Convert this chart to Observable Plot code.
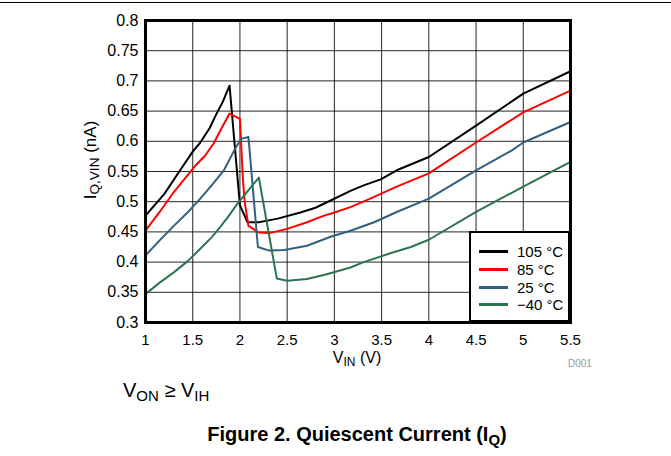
<!DOCTYPE html>
<html>
<head>
<meta charset="utf-8">
<script src="https://cdn.jsdelivr.net/npm/d3@7"></script>
<script src="https://cdn.jsdelivr.net/npm/@observablehq/plot@0.6"></script>
<style>
  html, body { margin: 0; padding: 0; background: white; }
  #page { position: relative; width: 671px; height: 456px; overflow: hidden; font-family: "Liberation Sans", Arial, sans-serif; color: black; }
  #topline { position: absolute; left: 0; top: 2px; width: 671px; height: 1px; background: black; }
  #chart { position: absolute; left: 0; top: 0; }
  .abs { position: absolute; white-space: nowrap; line-height: 1; }
  sub { font-size: 0.75em; vertical-align: -0.25em; line-height: 0; }
  .ylab sub { font-size: 0.8em; }
  #legend { position: absolute; left: 469px; top: 231px; width: 97px; height: 87px; border: 2px solid black; background: white; }
  .lrow { position: absolute; left: 8px; height: 18px; width: 90px; font-size: 15px; white-space: nowrap; line-height: 1; }
  .lrow .sw { position: absolute; left: 0; top: 8px; width: 29px; height: 0; border-top: 3px solid; }
  .lrow .lt { position: absolute; left: 38px; top: 2px; white-space: nowrap; }
</style>
</head>
<body>
<div id="page">
  <div id="topline"></div>
  <div id="chart"></div>
</div>
<script>
// ---- data ----
const seriesNames = ["105 °C", "85 °C", "25 °C", "−40 °C"];
const seriesColors = ["#000000", "#ff0000", "#31607f", "#2e7350"];

const vin105 = [1.0, 1.2, 1.37, 1.5, 1.58, 1.68, 1.75, 1.82, 1.89, 2.0, 2.08, 2.2, 2.4, 2.64, 2.8, 2.96, 3.17, 3.31, 3.49, 3.66, 4.0, 4.5, 5.0, 5.5];
const iq105  = [0.477, 0.513, 0.553, 0.583, 0.598, 0.622, 0.645, 0.666, 0.692, 0.494, 0.466, 0.466, 0.472, 0.482, 0.490, 0.502, 0.518, 0.527, 0.537, 0.552, 0.574, 0.626, 0.679, 0.716];

const vin85 = [1.0, 1.15, 1.3, 1.53, 1.63, 1.72, 1.8, 1.89, 2.0, 2.03, 2.05, 2.09, 2.2, 2.31, 2.5, 2.71, 2.89, 2.96, 3.17, 3.38, 3.49, 3.66, 4.0, 4.5, 5.0, 5.5];
const iq85  = [0.452, 0.483, 0.516, 0.560, 0.576, 0.596, 0.620, 0.646, 0.637, 0.540, 0.500, 0.460, 0.449, 0.448, 0.455, 0.466, 0.477, 0.480, 0.491, 0.505, 0.513, 0.525, 0.547, 0.598, 0.648, 0.684];

const vin25 = [1.0, 1.15, 1.3, 1.45, 1.58, 1.7, 1.83, 1.94, 2.01, 2.09, 2.19, 2.31, 2.47, 2.71, 2.96, 3.17, 3.42, 3.66, 4.0, 4.5, 4.88, 5.0, 5.5];
const iq25  = [0.411, 0.436, 0.460, 0.483, 0.505, 0.527, 0.552, 0.585, 0.604, 0.607, 0.425, 0.419, 0.420, 0.427, 0.442, 0.452, 0.466, 0.483, 0.505, 0.552, 0.585, 0.598, 0.632];

const vinM40 = [1.0, 1.15, 1.3, 1.45, 1.58, 1.7, 1.79, 1.88, 1.97, 2.08, 2.2, 2.39, 2.5, 2.71, 2.92, 3.17, 3.31, 3.6, 3.81, 4.0, 4.5, 5.0, 5.5];
const iqM40  = [0.347, 0.366, 0.383, 0.402, 0.422, 0.441, 0.458, 0.476, 0.496, 0.517, 0.540, 0.373, 0.369, 0.372, 0.380, 0.391, 0.400, 0.415, 0.425, 0.437, 0.483, 0.525, 0.566];

const xTicks = [1, 1.5, 2, 2.5, 3, 3.5, 4, 4.5, 5, 5.5];
const yTicks = [0.3, 0.35, 0.4, 0.45, 0.5, 0.55, 0.6, 0.65, 0.7, 0.75, 0.8];

// ---- build tidy table ----
const seriesX = [vin105, vin85, vin25, vinM40];
const seriesY = [iq105, iq85, iq25, iqM40];
const data = [];
seriesNames.forEach((name, k) => {
  seriesX[k].forEach((v, i) => data.push({s: name, v, i: seriesY[k][i]}));
});

const chart = Plot.plot({
  width: 671,
  height: 378,
  marginLeft: 145,
  marginRight: 101,
  marginTop: 20,
  marginBottom: 56,
  style: {fontFamily: "'Liberation Sans', Arial, sans-serif", fontSize: "15px", color: "black", background: "transparent", overflow: "visible"},
  x: {domain: [1, 5.5], label: null},
  y: {domain: [0.3, 0.8], label: null},
  color: {domain: seriesNames, range: seriesColors},
  marks: [
    Plot.gridX(xTicks, {stroke: "black", strokeOpacity: 0.85, strokeWidth: 1}),
    Plot.gridY(yTicks, {stroke: "black", strokeOpacity: 0.85, strokeWidth: 1}),
    Plot.line(data, {x: "v", y: "i", z: "s", stroke: "s", strokeWidth: 2}),
    Plot.frame({stroke: "black", strokeWidth: 3}),
    Plot.axisX(xTicks, {tickSize: 0, tickPadding: 12, tickFormat: d => String(d), fontSize: 15, label: null}),
    Plot.axisY(yTicks, {tickSize: 0, tickPadding: 7, tickFormat: d => String(+d.toFixed(2)), fontSize: 16, label: null})
  ]
});
document.getElementById("chart").appendChild(chart);

// ---- overlay texts ----
const page = document.getElementById("page");
function addText(html, css, cls) {
  const d = document.createElement("div");
  d.className = "abs" + (cls ? " " + cls : "");
  d.innerHTML = html;
  Object.assign(d.style, css);
  page.appendChild(d);
  return d;
}
// y label (rotated)
addText("I<sub>Q,VIN</sub> (nA)", {left: "90px", top: "160px", fontSize: "17px", transform: "translate(-50%,-50%) rotate(-90deg)"}, "ylab");
// x label
addText("V<sub>IN</sub> (V)", {left: "357px", top: "350px", fontSize: "16px", transform: "translateX(-50%)"});
// D001
addText("D001", {left: "568px", top: "359px", fontSize: "10px", color: "#999"});
// condition
addText("V<sub>ON</sub> ≥ V<sub>IH</sub>", {left: "123px", top: "380px", fontSize: "20px"});
// caption
addText("Figure 2. Quiescent Current (I<sub>Q</sub>)", {left: "357px", top: "424px", fontSize: "20px", fontWeight: "bold", transform: "translateX(-50%)"});

// legend
const leg = document.createElement("div");
leg.id = "legend";
seriesNames.forEach((name, k) => {
  const r = document.createElement("div");
  r.className = "lrow";
  r.style.top = (9 + k * 17.8) + "px";
  r.innerHTML = `<div class="sw" style="border-color:${seriesColors[k]}"></div><div class="lt">${name}</div>`;
  leg.appendChild(r);
});
page.appendChild(leg);
</script>
</body>
</html>
